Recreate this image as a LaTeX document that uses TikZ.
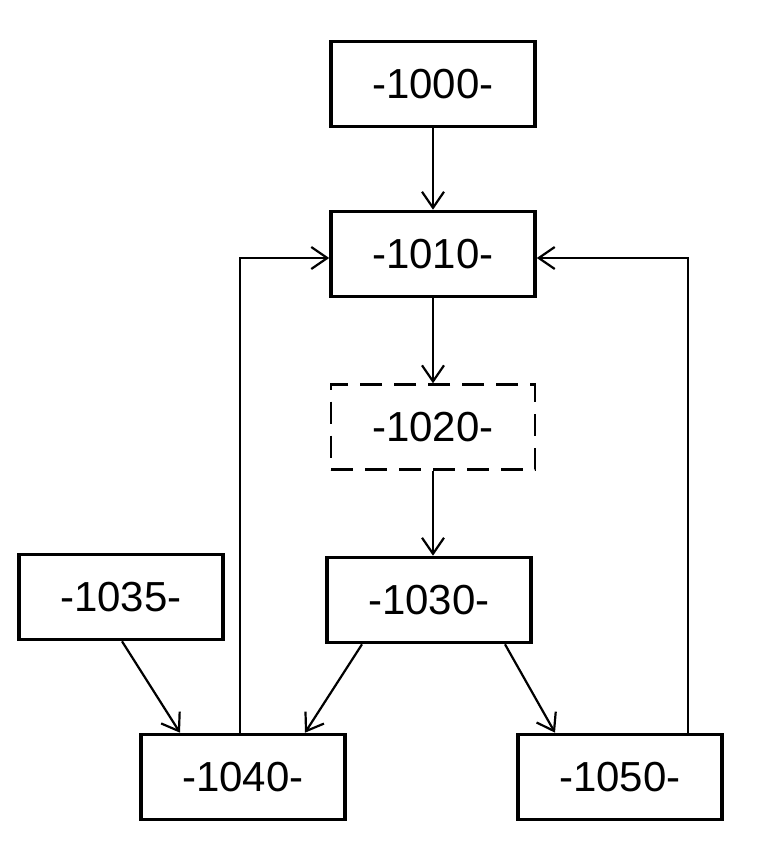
\documentclass[tikz,border=0pt]{standalone}
\usepackage{fontspec}
\setmainfont{Liberation Sans}
\usetikzlibrary{arrows.meta}
\begin{document}
\begin{tikzpicture}[x=1pt,y=-1pt,
  box/.style={draw,line width=3.6pt,minimum width=204pt,minimum height=85pt,font=\fontsize{42}{46}\selectfont,inner sep=0pt},
  dbox/.style={box,line width=2.4pt,dash pattern=on 22pt off 12pt},
  arr/.style={line width=2.2pt,-{Straight Barb[length=16pt,width=22pt,line width=2.2pt]}}]
\useasboundingbox (0,0) rectangle (777,864);
\node[box] (a) at (433,84) {-1000-};
\node[box] (b) at (433,254) {-1010-};
\node[dbox] (c) at (433,427) {-1020-};
\node[box] (d) at (429,600) {-1030-};
\node[box] (e) at (121,597) {-1035-};
\node[box] (f) at (243,777) {-1040-};
\node[box] (g) at (620,777) {-1050-};
\draw[arr] (a.south) -- (b.north);
\draw[arr] (b.south) -- (c.north);
\draw[arr] (433,0 |- c.south) -- (433,0 |- d.north);
\draw[arr] (362,0 |- d.south) -- (305,0 |- f.north);
\draw[arr] (505,0 |- d.south) -- (555,0 |- g.north);
\draw[arr] (122,0 |- e.south) -- (180,0 |- f.north);
\draw[arr] (240,0 |- f.north) -- (240,258) -- (b.west |- 0,258);
\draw[arr] (688,0 |- g.north) -- (688,258) -- (b.east |- 0,258);
\end{tikzpicture}
\end{document}
